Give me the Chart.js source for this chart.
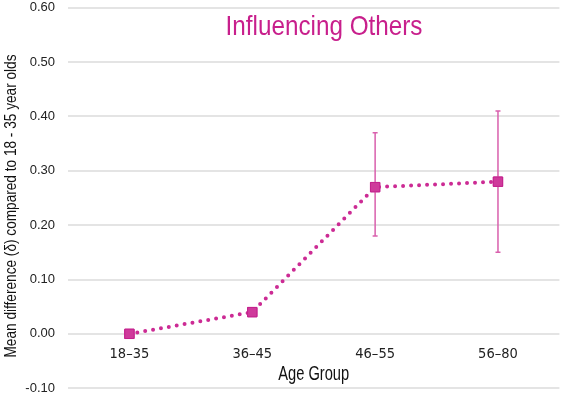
<!DOCTYPE html>
<html>
<head>
<meta charset="utf-8">
<script src="https://cdn.jsdelivr.net/npm/chart.js@4"></script>
<style>
  html, body { margin: 0; padding: 0; background: #fff; }
  #wrap { width: 567px; height: 396px; }
</style>
</head>
<body>
<div id="wrap"><canvas id="myChart"></canvas></div>
<script>
const ageGroups = ['18–35', '36–45', '46–55', '56–80'];
const meanDiff = [0.00, 0.04, 0.27, 0.28];
const errLow = [null, 0.035, 0.18, 0.15];
const errHigh = [null, 0.045, 0.37, 0.41];
const yTicks = [-0.10, 0.00, 0.10, 0.20, 0.30, 0.40, 0.50, 0.60];

const magenta = '#cc2b94';
const cond = '"DejaVu Sans Condensed", sans-serif';
const sans = '"Liberation Sans", Arial, sans-serif';

// condensed-looking text: squeeze a normal font to a given width
function squeezeText(ctx, text, font, color, x, y, width, angle, baseline) {
    ctx.save();
    ctx.font = font;
    ctx.fillStyle = color;
    ctx.textAlign = 'center';
    ctx.textBaseline = baseline;
    const w = ctx.measureText(text).width;
    ctx.translate(x, y);
    ctx.rotate(angle);
    ctx.scale(width / w, 1);
    ctx.fillText(text, 0, 0);
    ctx.restore();
}

const extras = {
    id: 'extras',
    afterDatasetsDraw(chart) {
        const ctx = chart.ctx;
        const x = chart.scales.x, y = chart.scales.y;
        ctx.save();
        ctx.strokeStyle = '#d960ad';
        ctx.lineWidth = 1.5;
        errLow.forEach((lo, i) => {
            if (lo === null) return;
            const px = x.getPixelForValue(i);
            const y1 = y.getPixelForValue(lo), y2 = y.getPixelForValue(errHigh[i]);
            ctx.beginPath();
            ctx.moveTo(px, y1); ctx.lineTo(px, y2);
            ctx.moveTo(px - 2.5, y1); ctx.lineTo(px + 2.5, y1);
            ctx.moveTo(px - 2.5, y2); ctx.lineTo(px + 2.5, y2);
            ctx.stroke();
        });
        ctx.restore();
        // markers again on top of the bars
        chart.getDatasetMeta(0).data.forEach(p => p.draw(ctx, chart.chartArea));
    },
    afterDraw(chart) {
        const ctx = chart.ctx;
        const area = chart.chartArea;
        squeezeText(ctx, 'Influencing Others', '28px ' + sans, '#c81f8c', 324, 35, 197, 0, 'alphabetic');
        squeezeText(ctx, 'Age Group', '20px ' + sans, '#111', (area.left + area.right) / 2, 380, 71, 0, 'alphabetic');
        squeezeText(ctx, 'Mean difference (\u03B4) compared to 18 - 35 year olds', '16px ' + sans, '#111',
            15.5, 206, 303, -Math.PI / 2, 'alphabetic');
    }
};

new Chart(document.getElementById('myChart'), {
    type: 'line',
    data: {
        labels: ageGroups,
        datasets: [{
            label: 'Influencing Others',
            data: meanDiff,
            borderColor: magenta,
            borderWidth: 4,
            borderDash: [0, 8],
            borderCapStyle: 'round',
            pointStyle: 'rect',
            pointRadius: 6.6,
            pointBackgroundColor: '#cf3a9b',
            pointBorderColor: '#c4238e',
            pointBorderWidth: 1,
            tension: 0
        }]
    },
    plugins: [extras],
    options: {
        responsive: true,
        maintainAspectRatio: false,
        animation: false,
        layout: { padding: { top: 0, bottom: 0, left: 0, right: 2.5 } },
        plugins: {
            legend: false,
            tooltip: { enabled: false }
        },
        scales: {
            x: {
                position: { y: 0 },
                offset: true,
                grid: { drawOnChartArea: false, drawTicks: true, tickLength: 12, tickColor: 'rgba(0,0,0,0)' },
                border: { display: false },
                ticks: {
                    padding: 0,
                    color: '#222',
                    font: { family: cond, size: 14.5 }
                }
            },
            y: {
                min: -0.10,
                max: 0.60,
                afterFit: s => { s.width = 68; },
                afterBuildTicks: s => { s.ticks = yTicks.map(v => ({ value: v })); },
                grid: { color: '#e4e4e4', lineWidth: 2, drawTicks: true, tickLength: 13, tickColor: 'rgba(0,0,0,0)' },
                border: { display: false },
                ticks: {
                    padding: 0,
                    color: '#222',
                    font: { family: sans, size: 13 },
                    callback: v => v.toFixed(2)
                }
            }
        }
    }
});
</script>
</body>
</html>
